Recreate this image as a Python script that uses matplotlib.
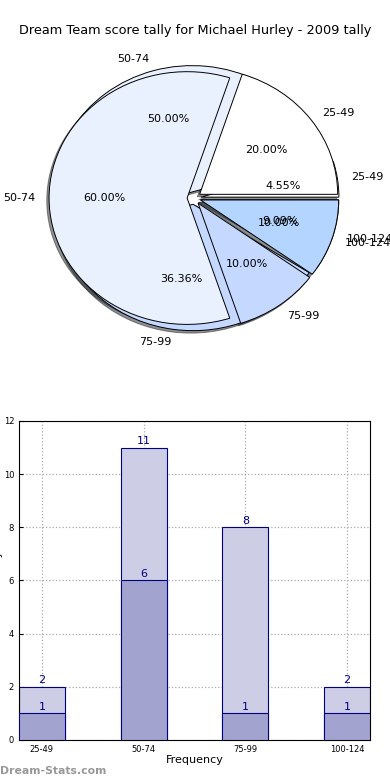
import matplotlib
matplotlib.use('Agg')
import matplotlib.pyplot as plt
import numpy as np

# data
ranges = ['25-49', '50-74', '75-99', '100-124']
tally_all = [1, 11, 8, 2]     # outer pie / light bars
tally_2009 = [2, 6, 1, 1]     # inner pie
bar_light = [2, 11, 8, 2]
bar_dark = [1, 6, 1, 1]

pie_colors = ['#ffffff', '#eaf1fe', '#c5d8ff', '#b3d5ff']

fig = plt.figure(figsize=(3.9, 7.8), dpi=100)

# pie part
ax1 = fig.add_axes([0.055, 0.5436, 0.885, 0.405])
wp = dict(edgecolor='black', linewidth=0.7)
for vals in (tally_all, tally_2009):
    ax1.pie(vals, labels=ranges, colors=pie_colors, autopct='%.2f%%',
            explode=[0.05] * 4, startangle=0,
            shadow={'ox': -0.012, 'oy': -0.014, 'shade': 0.85},
            wedgeprops=wp, textprops=dict(fontsize=8))
ax1.set_aspect('auto')
ax1.set_xlim(-1.25, 1.25)
ax1.set_ylim(-1.25, 1.25)
fig.text(0.5, 0.961, 'Dream Team score tally for Michael Hurley - 2009 tally',
         ha='center', va='center', fontsize=9.3)

# bar part
ax2 = fig.add_axes([0.0487, 0.0513, 0.9, 0.409])
x = np.arange(len(ranges))
w = 0.45
ax2.bar(x, bar_light, w, color='#cdcde6', edgecolor='#000080', linewidth=0.8, zorder=2)
ax2.bar(x, bar_dark, w, color='#a3a3d0', edgecolor='#000080', linewidth=0.8, zorder=3)
for xi, v in zip(x, bar_light):
    ax2.text(xi, v + 0.05, str(v), ha='center', va='bottom', color='#000080', fontsize=8, zorder=4)
for xi, v in zip(x, bar_dark):
    ax2.text(xi, v + 0.05, str(v), ha='center', va='bottom', color='#000080', fontsize=8, zorder=4)
ax2.set_xlim(-w / 2, len(ranges) - 1 + w / 2)
ax2.set_ylim(0, 12)
ax2.set_yticks(range(0, 13, 2))
ax2.set_xticks(x)
ax2.set_xticklabels(ranges)
ax2.tick_params(labelsize=6, direction='in', length=3)
ax2.grid(True, linestyle=':', color='#aaaaaa', linewidth=0.9, zorder=0)
ax2.set_axisbelow(True)
ax2.set_xlabel('Frequency', fontsize=8, labelpad=1)
ax2.set_ylabel('Score Tally', fontsize=8)
ax2.yaxis.set_label_coords(-0.045, 0.5)

fig.text(0.0, 0.012, 'Dream-Stats.com', color='#999999', fontsize=7.8,
         fontweight='bold', ha='left', va='center')

fig.savefig('out.png', dpi=100)
